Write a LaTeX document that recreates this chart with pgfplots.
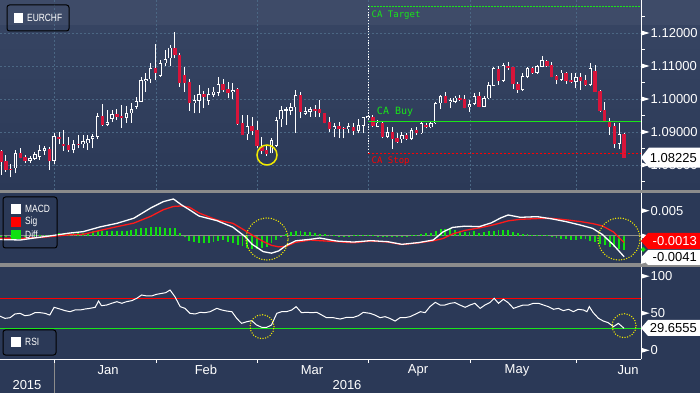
\documentclass[border=0pt]{standalone}
\usepackage{pgfplots}
\pgfplotsset{compat=1.18}
\usepackage{pgfplotstable}
\usepgfplotslibrary{fillbetween}
\usepackage{fontspec}
\setmainfont{Liberation Sans}
\newfontfamily\legfont[FakeStretch=0.8]{Liberation Sans}
\newfontfamily\monofont{DejaVu Sans Mono}
\definecolor{bgmain}{HTML}{2B3957}
\definecolor{bandtop}{HTML}{3E4B68}
\definecolor{grad1}{HTML}{364462}
\definecolor{sepgray}{HTML}{8C8C8C}
\definecolor{gridcol}{HTML}{4B6784}
\definecolor{candred}{HTML}{D8143A}
\definecolor{candinner}{HTML}{323F5D}
\definecolor{macdgray}{HTML}{A6A9BA}
\definecolor{macdred}{HTML}{A05C6C}
\definecolor{sigred}{HTML}{FF1A1A}
\definecolor{diffgreen}{HTML}{10E010}
\definecolor{rsifill}{HTML}{9A5E6E}
\definecolor{capgreen}{HTML}{19E619}
\definecolor{yellowc}{HTML}{F2EA00}

\pgfplotstableread{
i o h l c
3 1.07899 1.08455 1.07748 1.08354
6 1.08121 1.08273 1.08071 1.08202
7 1.08192 1.08404 1.08152 1.08323
8 1.08253 1.08596 1.08152 1.08455
9 1.08424 1.08576 1.08303 1.08505
11 1.08121 1.08980 1.08030 1.08879
15 1.08455 1.08758 1.08354 1.08626
17 1.08626 1.08909 1.08505 1.08727
18 1.08657 1.08909 1.08455 1.08788
19 1.08788 1.08939 1.08505 1.08879
20 1.08859 1.09566 1.08778 1.09485
22 1.09212 1.09667 1.09182 1.09293
23 1.09394 1.09667 1.09313 1.09535
26 1.09434 1.09788 1.09283 1.09566
27 1.09566 1.09869 1.09283 1.09697
28 1.09768 1.10071 1.09687 1.09939
29 1.09919 1.10657 1.09919 1.10576
30 1.10545 1.10778 1.10222 1.10596
31 1.10596 1.11101 1.10495 1.10929
33 1.10697 1.11182 1.10677 1.11081
34 1.11081 1.11485 1.11010 1.11212
35 1.11232 1.11636 1.11010 1.11556
40 1.09869 1.10121 1.09566 1.09970
41 1.09950 1.10424 1.09566 1.10152
43 1.09950 1.10323 1.09818 1.10152
44 1.10121 1.10374 1.10071 1.10222
45 1.10192 1.10657 1.10091 1.10455
48 1.10222 1.10495 1.10000 1.10273
51 1.08929 1.09515 1.08758 1.09182
56 1.08354 1.08808 1.08354 1.08758
57 1.08576 1.09465 1.08556 1.09364
58 1.09384 1.09788 1.09162 1.09667
59 1.09647 1.09748 1.09212 1.09687
60 1.09647 1.09889 1.09515 1.09748
61 1.09748 1.10273 1.08980 1.10121
63 1.09545 1.09748 1.09515 1.09636
64 1.09616 1.09748 1.09465 1.09697
69 1.09081 1.09263 1.08838 1.09182
72 1.09081 1.09283 1.08960 1.09182
74 1.09040 1.09384 1.08960 1.09212
75 1.09192 1.09465 1.08960 1.09444
76 1.09434 1.09515 1.09364 1.09475
78 1.09162 1.09364 1.09141 1.09283
80 1.08859 1.09162 1.08808 1.08990
83 1.08778 1.09000 1.08677 1.08909
85 1.08788 1.09111 1.08758 1.09061
87 1.08960 1.09313 1.08939 1.09263
89 1.09141 1.09313 1.09111 1.09263
90 1.09263 1.09919 1.09242 1.09869
91 1.09869 1.10121 1.09687 1.10091
93 1.09919 1.10020 1.09717 1.09970
94 1.09919 1.10091 1.09869 1.10040
97 1.09748 1.09970 1.09616 1.09838
98 1.09849 1.10172 1.09818 1.10091
100 1.09768 1.10091 1.09748 1.10020
101 1.10020 1.10525 1.10000 1.10424
102 1.10404 1.10980 1.10404 1.10929
104 1.10556 1.11081 1.10525 1.11030
108 1.10273 1.10778 1.10253 1.10697
109 1.10677 1.10980 1.10626 1.10929
111 1.10798 1.11030 1.10758 1.11000
112 1.10980 1.11303 1.10960 1.11182
116 1.10576 1.10879 1.10556 1.10798
119 1.10525 1.10778 1.10323 1.10657
122 1.10424 1.11101 1.10404 1.10929
128 1.08636 1.09283 1.08475 1.08939
}\upc

\pgfplotstableread{
i o h l c
0 1.08424 1.08455 1.07697 1.08101
1 1.08121 1.08303 1.07798 1.07849
2 1.07879 1.08030 1.07626 1.07859
4 1.08354 1.08505 1.08202 1.08222
5 1.08253 1.08303 1.08071 1.08121
10 1.08485 1.08556 1.07849 1.08121
12 1.08859 1.09010 1.08626 1.08778
13 1.08636 1.09061 1.08424 1.08586
14 1.08606 1.08838 1.08404 1.08455
16 1.08646 1.08909 1.08505 1.08606
21 1.09485 1.09849 1.09182 1.09212
24 1.09535 1.09687 1.09364 1.09455
25 1.09475 1.09818 1.09131 1.09434
32 1.10929 1.11667 1.10576 1.10798
36 1.11556 1.12020 1.11232 1.11333
37 1.11333 1.11384 1.10374 1.10495
38 1.10727 1.10980 1.10222 1.10495
39 1.10525 1.10596 1.09647 1.09869
42 1.10152 1.10253 1.09717 1.10071
46 1.10455 1.10596 1.10222 1.10273
47 1.10303 1.10525 1.10020 1.10192
49 1.10293 1.10323 1.09212 1.09242
50 1.09263 1.09515 1.08909 1.08909
52 1.09182 1.09465 1.08909 1.09030
53 1.09061 1.09343 1.08505 1.08576
54 1.08556 1.08859 1.08333 1.08424
55 1.08455 1.08586 1.08273 1.08333
62 1.10121 1.10222 1.09414 1.09616
65 1.09697 1.09818 1.09465 1.09647
66 1.09697 1.09970 1.09465 1.09566
67 1.09566 1.09566 1.09263 1.09283
68 1.09293 1.09465 1.09010 1.09081
70 1.09182 1.09313 1.08808 1.09081
71 1.09111 1.09162 1.08808 1.09081
73 1.09141 1.09263 1.08909 1.09040
77 1.09465 1.09515 1.09162 1.09182
79 1.09283 1.09313 1.08808 1.08838
81 1.09010 1.09141 1.08485 1.08778
82 1.08828 1.08960 1.08677 1.08707
84 1.08909 1.08960 1.08758 1.08788
86 1.09061 1.09162 1.08909 1.08960
88 1.09212 1.09263 1.09111 1.09141
92 1.10091 1.10222 1.09869 1.09869
95 1.10020 1.10121 1.09950 1.09970
96 1.10000 1.10121 1.09717 1.09737
99 1.10091 1.10222 1.09748 1.09768
103 1.10899 1.11000 1.10424 1.10556
105 1.11010 1.11131 1.10879 1.10929
106 1.10960 1.10980 1.10303 1.10444
107 1.10444 1.10525 1.10192 1.10273
110 1.10929 1.10980 1.10758 1.10778
113 1.11152 1.11182 1.10980 1.11000
114 1.11030 1.11131 1.10657 1.10677
115 1.10697 1.10727 1.10444 1.10576
117 1.10798 1.10828 1.10455 1.10556
118 1.10576 1.10778 1.10475 1.10515
120 1.10677 1.10778 1.10273 1.10556
121 1.10576 1.10727 1.10394 1.10424
123 1.10849 1.11030 1.10222 1.10222
124 1.10242 1.10273 1.09616 1.09647
125 1.09667 1.09919 1.09313 1.09333
126 1.09313 1.09414 1.08909 1.09162
127 1.09182 1.09263 1.08505 1.08626
129 1.08939 1.08960 1.08225 1.08225
}\downc

\pgfplotstableread{
i m s
-0.3 -0.00070 -0.00046
4 -0.00079 -0.00046
8 -0.00025 -0.00030
10 0.00000 -0.00013
14 0.00056 0.00022
17 0.00086 0.00033
20.5 0.00180 0.00110
24 0.00251 0.00185
27.5 0.00352 0.00255
31 0.00555 0.00390
33.6 0.00680 0.00520
35.7 0.00733 0.00585
37.4 0.00614 0.00595
39 0.00520 0.00570
41 0.00395 0.00455
44.7 0.00304 0.00317
48 0.00175 0.00251
50.5 -0.00010 0.00110
52 -0.00165 0.00020
54.3 -0.00310 -0.00110
56 -0.00340 -0.00185
57.5 -0.00295 -0.00215
59 -0.00190 -0.00205
61 -0.00095 -0.00125
64 -0.00066 -0.00079
66 -0.00040 -0.00092
69.5 -0.00100 -0.00112
73 -0.00120 -0.00135
76.5 -0.00092 -0.00099
80 -0.00112 -0.00119
83 -0.00165 -0.00170
86.5 -0.00130 -0.00135
89.5 -0.00079 -0.00095
91.5 0.00080 -0.00050
93.5 0.00170 0.00040
96 0.00195 0.00110
99 0.00185 0.00160
101.5 0.00260 0.00210
103.5 0.00360 0.00260
105 0.00416 0.00300
107.5 0.00370 0.00330
111 0.00383 0.00345
114 0.00340 0.00350
117 0.00284 0.00320
120 0.00215 0.00285
122.5 0.00150 0.00245
124.5 0.00030 0.00200
126.8 -0.00178 0.00080
129 -0.00410 -0.00130
}\macdtab

\pgfplotstableread{
i d
0 -0.0002
1 -0.0002
2 -0.0002
3 -0.0001
4 -0.0001
5 -0.0001
6 0.0000
7 0.0001
8 0.0001
9 0.0001
10 0.0001
11 0.0002
12 0.0005
13 0.0005
14 0.0005
15 0.0005
16 0.0005
17 0.0006
18 0.0006
19 0.0009
20 0.0010
21 0.0010
22 0.0010
23 0.0010
24 0.0010
25 0.0010
26 0.0010
27 0.0011
28 0.0013
29 0.0016
30 0.0016
31 0.0017
32 0.0017
33 0.0017
34 0.0016
35 0.0016
36 0.0016
37 0.0005
38 -0.0002
39 -0.0009
40 -0.0012
41 -0.0014
42 -0.0013
43 -0.0014
44 -0.0011
45 -0.0009
46 -0.0008
47 -0.0011
48 -0.0014
49 -0.0018
50 -0.0020
51 -0.0024
52 -0.0025
53 -0.0026
54 -0.0024
55 -0.0021
56 -0.0014
57 -0.0008
58 -0.0002
59 0.0003
60 0.0007
61 0.0009
62 0.0009
63 0.0008
64 0.0007
65 0.0005
66 0.0004
67 0.0003
68 0.0002
69 0.0001
70 0.00005
71 -0.0001
72 0.00005
73 0.0001
74 0.0002
75 0.0002
76 0.0002
77 0.0001
78 0.00005
79 -0.0001
80 -0.0002
81 -0.0002
82 -0.0002
83 -0.0001
84 0.00005
85 0.0001
86 0.0002
87 0.0004
88 0.0006
89 0.0005
90 0.0009
91 0.0013
92 0.0013
93 0.0013
94 0.0012
95 0.0009
96 0.0007
97 0.0007
98 0.0009
99 0.0005
100 0.0007
101 0.0009
102 0.0009
103 0.0011
104 0.0011
105 0.0011
106 0.0007
107 0.0005
108 0.0003
109 0.0003
110 0.0002
111 0.0002
112 0.0002
113 0.0001
114 -0.0002
115 -0.0003
116 -0.0005
117 -0.0006
118 -0.0007
119 -0.0007
120 -0.0005
121 -0.0006
122 -0.0009
123 -0.0011
124 -0.0015
125 -0.0018
126 -0.0021
127 -0.0022
128 -0.0025
129 -0.0028
}\difftab

\pgfplotstableread{
i r
-0.3 46.3
0.83 43.1
1.86 44.0
2.9 49.0
3.93 49.9
4.97 46.7
6.0 47.6
7.04 50.8
8.07 50.8
9.1 49.9
10.1 47.6
11.0 58.0
12.2 55.7
13.25 53.5
14.3 52.1
15.3 54.4
16.4 54.4
17.4 55.7
18.4 56.6
19.5 58.0
20.2 66.5
20.8 60.2
21.9 61.1
22.9 63.4
24.0 65.6
25.0 63.4
26.0 65.6
27.1 67.0
28.1 70.1
29.1 74.6
30.2 73.3
31.2 73.3
32.2 75.5
33.3 76.8
34.1 77.7
35.0 81.3
36.0 72.4
37.1 58.9
38.1 56.6
39.1 49.9
40.2 49.0
41.2 51.2
42.2 50.8
43.3 52.1
44.7 56.6
45.7 54.4
46.7 53.0
47.8 52.1
48.8 43.1
49.8 36.4
50.9 38.6
51.9 40.0
52.9 34.2
54.0 31.0
55.0 31.0
56.0 34.2
57.1 49.9
58.1 52.1
59.1 52.1
60.2 54.4
61.1 58.9
62.2 50.8
63.3 51.2
64.3 50.8
65.4 51.2
66.4 47.6
67.4 44.0
68.8 44.0
70.2 42.2
71.6 44.5
73.0 44.5
74.0 46.7
75.0 51.2
76.4 49.9
77.4 47.6
78.5 44.0
79.5 45.4
80.5 43.1
81.6 39.5
82.6 44.0
83.6 44.0
84.7 45.4
85.7 48.5
86.8 52.1
87.8 50.8
88.8 58.9
89.9 64.7
90.9 61.1
91.9 61.1
93.0 63.4
94.0 64.3
95.0 61.1
96.1 58.0
97.1 61.1
98.1 63.4
99.2 56.6
100.2 61.1
101.2 64.3
102.1 70.1
103.0 63.4
104.0 68.8
105.0 64.3
106.1 56.6
107.1 58.9
108.1 61.1
109.2 61.1
110.2 63.4
111.3 63.4
112.3 61.1
113.3 58.9
114.4 55.3
115.4 56.6
116.4 53.5
117.5 55.3
118.5 52.1
119.5 55.3
120.6 54.4
121.3 52.1
121.8 58.9
122.6 50.8
123.7 43.1
124.7 39.5
125.7 37.3
126.8 31.9
127.8 36.4
129.0 29.66
}\rsitab

\pgfplotsset{
  bbg/.style={
    scale only axis, width=641pt,
    xmin=-0.207, xmax=132.5,
    axis line style={draw=none},
    xtick={10.97,32.09,53.0,75.98,97.10,119.05},
    xticklabels={},
    xtick pos=bottom,
    scaled ticks=false,
    xmajorgrids, ymajorgrids,
    grid style={gridcol, line width=0.6pt, dash pattern=on 2pt off 2pt},
    ytick pos=right, yticklabel pos=right,
    tick align=outside,
    major tick length=7pt, minor tick length=3.5pt,
    major tick style={draw=none},
    minor tick style={white, line width=1pt},
    yticklabel style={font=\fontsize{13}{13}\selectfont, text=white, inner sep=0pt, anchor=west, xshift=2.5pt},
  },
  wick/.style={draw=none, mark=none, error bars/.cd, y dir=plus, y explicit, error mark=none,
    error bar style={draw=white, line width=0.9pt}},
}

\begin{document}
\begin{tikzpicture}
\fill[bgmain] (0pt,0pt) rectangle (700pt,393pt);
\fill[bandtop] (0pt,367pt) rectangle (700pt,393pt);
\shade[top color=grad1, bottom color=bgmain] (0pt,203pt) rectangle (700pt,367pt);
\fill[sepgray] (0pt,200pt) rectangle (700pt,203pt);
\fill[sepgray] (0pt,126pt) rectangle (700pt,130pt);

% ---------------- price panel
\begin{axis}[bbg, at={(0pt,203pt)}, anchor=south west, height=190pt,
  ymin=1.072424, ymax=1.13,
  ytick={1.08,1.09,1.10,1.11,1.12},
  yticklabels={1.08000,1.09000,1.10000,1.11000,1.12000},
  minor ytick={1.075,1.085,1.095,1.105,1.115,1.125}]
\addplot[wick] table[x=i, y=l, y error plus expr={\thisrow{h}-\thisrow{l}}] {\upc};
\addplot[wick] table[x=i, y=l, y error plus expr={\thisrow{h}-\thisrow{l}}] {\downc};
\addplot[draw=none, mark=none, error bars/.cd, y dir=plus, y explicit, error mark=none,
  error bar style={draw=white, line width=3.4pt}]
  table[x=i, y=o, y error plus expr={max(\thisrow{c}-\thisrow{o},0.00018)}] {\upc};
\addplot[draw=none, mark=none, error bars/.cd, y dir=plus, y explicit, error mark=none,
  error bar style={draw=candinner, line width=1.8pt}]
  table[x=i, y expr={\thisrow{o}+0.0002}, y error plus expr={max(\thisrow{c}-\thisrow{o}-0.0004,0)}] {\upc};
\addplot[draw=none, mark=none, error bars/.cd, y dir=plus, y explicit, error mark=none,
  error bar style={draw=candred, line width=3.4pt}]
  table[x=i, y=c, y error plus expr={max(\thisrow{o}-\thisrow{c},0.00018)}] {\downc};
\addplot[capgreen, line width=0.9pt, dash pattern=on 1.5pt off 1.5pt] coordinates {(75.98,1.12818) (140,1.12818)};
\addplot[white, line width=0.9pt, dash pattern=on 1.2pt off 1.6pt] coordinates {(75.98,1.12818) (75.98,1.08355)};
\addplot[capgreen, line width=1.2pt] coordinates {(75.98,1.09324) (140,1.09324)};
\addplot[red, line width=0.8pt, dash pattern=on 2pt off 2pt] coordinates {(75.98,1.08355) (140,1.08355)};
\node[anchor=west, inner sep=0pt, text=capgreen, font=\monofont\fontsize{9}{9}\selectfont] at (axis cs:76.7,1.12545) {CA Target};
\node[anchor=west, inner sep=0pt, text=capgreen, font=\monofont\fontsize{10}{10}\selectfont] at (axis cs:77.8,1.09606) {CA Buy};
\node[anchor=west, inner sep=0pt, text=red, font=\monofont\fontsize{9}{9}\selectfont] at (axis cs:76.7,1.08121) {CA Stop};
\draw[yellowc, line width=1.5pt] (axis cs:55.07,1.08303) circle[radius=10pt];
\end{axis}

% ---------------- MACD panel
\begin{axis}[bbg, at={(0pt,130pt)}, anchor=south west, height=70pt,
  ymin=-0.005346, ymax=0.008514,
  ytick={-0.005,0,0.005}, yticklabels={,,0.005},
  minor ytick={-0.0025,0.0025}]
\addplot[sepgray, line width=1pt] coordinates {(-1,0) (140,0)};
\addplot[name path=macd, draw=none] table[x=i, y=m] {\macdtab};
\addplot[name path=sig, draw=none] table[x=i, y=s] {\macdtab};
\addplot fill between[of=macd and sig, split,
  every segment no 0/.style={fill=macdred},
  every segment no 1/.style={fill=macdgray},
  every segment no 2/.style={fill=macdred},
  every segment no 3/.style={fill=macdgray},
  every segment no 4/.style={fill=macdred}];
\addplot[ycomb, draw=diffgreen, line width=1.9pt, mark=none] table[x=i, y=d] {\difftab};
\addplot[sigred, line width=1.3pt] table[x=i, y=s] {\macdtab};
\addplot[white, line width=1.3pt] table[x=i, y=m] {\macdtab};
\draw[yellowc, line width=1.5pt, dash pattern=on 0pt off 2.6pt, line cap=round] (axis cs:55.07,-0.000594) circle[radius=21pt];
\draw[yellowc, line width=1.5pt, dash pattern=on 0pt off 2.6pt, line cap=round] (axis cs:127.95,-0.000594) circle[radius=21pt];
\end{axis}

% ---------------- RSI panel
\begin{axis}[bbg, at={(0pt,34pt)}, anchor=south west, height=92pt,
  ymin=-11.68, ymax=112.35,
  ytick={0,50,100}, yticklabels={0,50,100},
  minor ytick={25,75}]
\addplot[name path=rsi, draw=none] table[x=i, y=r] {\rsitab};
\addplot[name path=seventy, draw=none] coordinates {(-1,70) (140,70)};
\addplot[rsifill] fill between[of=rsi and seventy, soft clip={(-1,70) rectangle (140,200)}];
\addplot[red, line width=1.1pt] coordinates {(-1,70) (140,70)};
\addplot[capgreen, line width=1.1pt] coordinates {(-1,30) (140,30)};
\addplot[white, line width=1pt] table[x=i, y=r] {\rsitab};
\draw[yellowc, line width=1.5pt, dash pattern=on 0pt off 2.6pt, line cap=round] (axis cs:54.04,31.9) circle[radius=12pt];
\draw[yellowc, line width=1.5pt, dash pattern=on 0pt off 2.6pt, line cap=round] (axis cs:128.99,33.3) circle[radius=12pt];
\end{axis}

\begin{scope}[x=1pt,y=1pt]
% axis lines
\draw[white, line width=1pt] (641,203) -- (641,393);
\draw[white, line width=1pt] (641,130) -- (641,200);
\draw[white, line width=1pt] (641,34) -- (641,126);
\draw[white, line width=1pt] (0,34) -- (641,34);
\draw[sepgray, line width=1pt] (54,0) -- (54,30);
% bottom month ticks
\foreach \xx in {54,156,257,368,470,576} {\draw[white, line width=1pt] (\xx,34) -- (\xx,30);}
% major tick flags (triangles)
\foreach \yy in {360,327,294,261,228,182.3,157,131.7,116.8,79.8,42.7} {
  \fill[white] (641,\yy+2.6) -- (649.5,\yy) -- (641,\yy-2.6) -- cycle;}

\begin{scope}[every node/.style={font=\fontsize{13}{13}\selectfont, text=white, inner sep=0pt}]
\node at (108,23) {Jan};
\node at (206,23) {Feb};
\node at (312,23) {Mar};
\node at (418,23) {Apr};
\node at (517,23) {May};
\node at (628,23) {Jun};
\node at (27,8) {2015};
\node at (347,8) {2016};
\end{scope}

% value flags
\fill[white] (641,235.4) -- (649,245.4) -- (700,245.4) -- (700,225.4) -- (649,225.4) -- cycle;
\node[anchor=east, inner sep=0pt, text=black, font=\fontsize{13}{13}\selectfont] at (697,235.4) {1.08225};
\fill[diffgreen] (643,146) -- (645.5,143.5) -- (643,141) -- (640.5,143.5) -- cycle;
\fill[red] (641,152) -- (648,160) -- (700,160) -- (700,144) -- (648,144) -- cycle;
\node[anchor=east, inner sep=0pt, text=white, font=\fontsize{13}{13}\selectfont] at (697,152) {-0.0013};
\fill[white] (641,135.5) -- (648,143) -- (700,143) -- (700,128) -- (648,128) -- cycle;
\node[anchor=east, inner sep=0pt, text=black, font=\fontsize{13}{13}\selectfont] at (697,135.5) {-0.0041};
\fill[white] (641,65) -- (648,73) -- (700,73) -- (700,57) -- (648,57) -- cycle;
\node[anchor=east, inner sep=0pt, text=black, font=\fontsize{13}{13}\selectfont] at (697,65) {29.6555};

% legends
\draw[black, line width=1pt, rounded corners=2.5pt] (7,362) rectangle (69,388);
\fill[white] (14,370) rectangle (23,380);
\node[anchor=west, inner sep=0pt, text=white, font=\legfont\fontsize{10.5}{10.5}\selectfont] at (27,375) {EURCHF};

\draw[black, line width=1pt, rounded corners=2.5pt] (3,145) rectangle (57,196);
\fill[white] (11,179) rectangle (21,189);
\fill[red] (11,166) rectangle (21,176);
\fill[diffgreen] (11,153.5) rectangle (21,163);
\begin{scope}[every node/.style={anchor=west, inner sep=0pt, text=white, font=\legfont\fontsize{10.5}{10.5}\selectfont}]
\node at (25,184) {MACD};
\node at (25,171) {Sig};
\node at (25,158) {Diff};
\end{scope}

\draw[black, line width=1pt, rounded corners=2.5pt] (3,38) rectangle (56,63);
\fill[white] (11,46) rectangle (21,56);
\node[anchor=west, inner sep=0pt, text=white, font=\legfont\fontsize{10.5}{10.5}\selectfont] at (25,51) {RSI};
\end{scope}
\pgfresetboundingbox
\useasboundingbox (0pt,0pt) rectangle (700pt,393pt);
\end{tikzpicture}
\end{document}
